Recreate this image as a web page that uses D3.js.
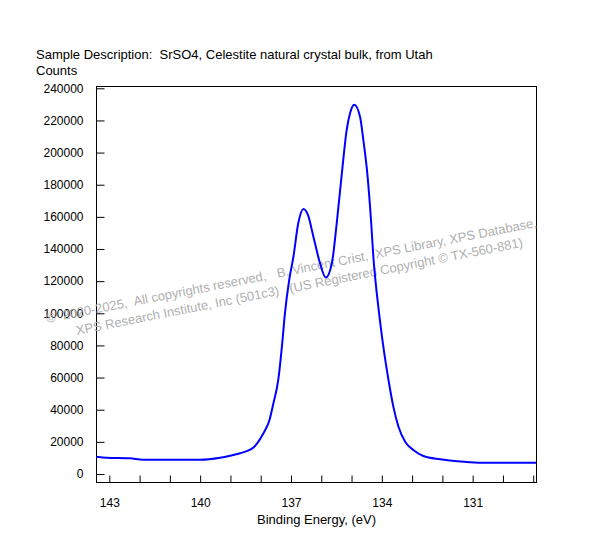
<!DOCTYPE html>
<html>
<head>
<meta charset="utf-8">
<script src="https://cdn.jsdelivr.net/npm/d3@7"></script>
<style>
  body { margin: 0; background: #fff; }
  svg text { font-family: "Liberation Sans", Arial, sans-serif; white-space: pre; }
</style>
</head>
<body>
<svg id="chart" width="593" height="557"></svg>
<script>
// binding energy (eV) and counts
var energy = [143.42, 143.09, 142.32, 141.88, 141.0, 140.0, 139.34, 139.01, 138.68, 138.46,
    138.24, 138.13, 137.91, 137.71, 137.58, 137.42, 137.30, 137.20, 137.06, 136.92,
    136.76, 136.59, 136.44, 136.26, 136.04, 135.85, 135.65, 135.49, 135.32, 135.16,
    135.05, 134.91, 134.72, 134.61, 134.48, 134.35, 134.28, 134.19, 134.09, 133.95,
    133.78, 133.62, 133.45, 133.23, 132.96, 132.63, 132.07, 131.52, 130.81, 128.90];
var counts = [10770, 10140, 9770, 8900, 8900, 8900, 10140, 11390, 12880, 14200,
    16500, 18800, 25330, 33600, 44000, 58500, 79200, 100000, 120700, 135200,
    156000, 164900, 161200, 147700, 131100, 122200, 131100, 156000, 187100, 214100,
    224500, 229800, 222300, 207800, 187100, 156000, 135200, 116600, 100000, 79200,
    58500, 41900, 29400, 20100, 14940, 11200, 9150, 7900, 7030, 7030];

var xTicks = [143, 140, 137, 134, 131];
var xMinorTicks = [143, 142, 141, 140, 139, 138, 137, 136, 135, 134, 133, 132, 131, 130, 129];
var yTicks = [0, 20000, 40000, 60000, 80000, 100000, 120000, 140000, 160000, 180000, 200000, 220000, 240000];

var titleText = "Sample Description:  SrSO4, Celestite natural crystal bulk, from Utah";
var yLabel = "Counts";
var xLabel = "Binding Energy, (eV)";
var watermark = [
    "\u00a9  2020-2025,  All copyrights reserved,   B. Vincent Crist,  XPS Library, XPS Database,",
    "XPS Research Institute, Inc (501c3)   (US Registered Copyright \u00a9 TX-560-881)"
];

var svg = d3.select("#chart");
var mLeft = 96.5, mRight = 536.5, mTop = 86.5, mBottom = 482.5;

var x = d3.scaleLinear()
    .domain([143.423, 128.892])
    .range([mLeft, mRight]);

var y = d3.scaleLinear()
    .domain([-5290, 241120])
    .range([mBottom, mTop]);

var data = energy.map(function (e, i) {
    return { e: e, c: counts[i] };
});

// frame
svg.append("rect")
    .attr("x", mLeft)
    .attr("y", mTop)
    .attr("width", mRight - mLeft)
    .attr("height", mBottom - mTop)
    .attr("fill", "none")
    .attr("stroke", "#000")
    .attr("stroke-width", 1);

// y axis, ticks pointing in
var yAxis = d3.axisLeft(y)
    .tickValues(yTicks)
    .tickSize(-8)
    .tickPadding(13)
    .tickFormat(d3.format("d"));

svg.append("g")
    .attr("transform", "translate(" + mLeft + ",0)")
    .call(yAxis)
    .call(function (g) {
        g.select(".domain").remove();
        g.selectAll("text")
            .attr("font-size", "12px")
            .attr("font-family", "Liberation Sans, Arial, sans-serif")
            .attr("fill", "#000");
    });

// x axis minor ticks
svg.append("g")
    .attr("transform", "translate(0," + mBottom + ")")
    .call(d3.axisBottom(x).tickValues(xMinorTicks).tickSize(-7).tickFormat(""))
    .call(function (g) { g.select(".domain").remove(); });

// x axis labels
svg.append("g")
    .attr("transform", "translate(0," + mBottom + ")")
    .call(d3.axisBottom(x).tickValues(xTicks).tickSize(0).tickPadding(16).tickFormat(d3.format("d")))
    .call(function (g) {
        g.select(".domain").remove();
        g.selectAll("text")
            .attr("font-size", "12px")
            .attr("font-family", "Liberation Sans, Arial, sans-serif")
            .attr("fill", "#000");
    });

// watermark
svg.append("text")
    .attr("transform", "translate(47,323) rotate(-11.1)")
    .attr("font-size", "13px")
    .attr("fill", "#b0b0b0")
    .text(watermark[0]);

svg.append("text")
    .attr("transform", "translate(77,335) rotate(-11.2)")
    .attr("font-size", "13px")
    .attr("fill", "#b0b0b0")
    .text(watermark[1]);

// spectrum
var line = d3.line()
    .x(function (d) { return x(d.e); })
    .y(function (d) { return y(d.c); })
    .curve(d3.curveMonotoneX);

svg.append("path")
    .datum(data)
    .attr("d", line)
    .attr("fill", "none")
    .attr("stroke", "#0000ff")
    .attr("stroke-width", 2);

// texts
svg.append("text")
    .attr("x", 36)
    .attr("y", 59)
    .attr("font-size", "13px")
    .attr("fill", "#000")
    .text(titleText);

svg.append("text")
    .attr("x", 36)
    .attr("y", 75)
    .attr("font-size", "13px")
    .attr("fill", "#000")
    .text(yLabel);

svg.append("text")
    .attr("x", (mLeft + mRight) / 2)
    .attr("y", 524)
    .attr("text-anchor", "middle")
    .attr("font-size", "13px")
    .attr("fill", "#000")
    .text(xLabel);
</script>
</body>
</html>
